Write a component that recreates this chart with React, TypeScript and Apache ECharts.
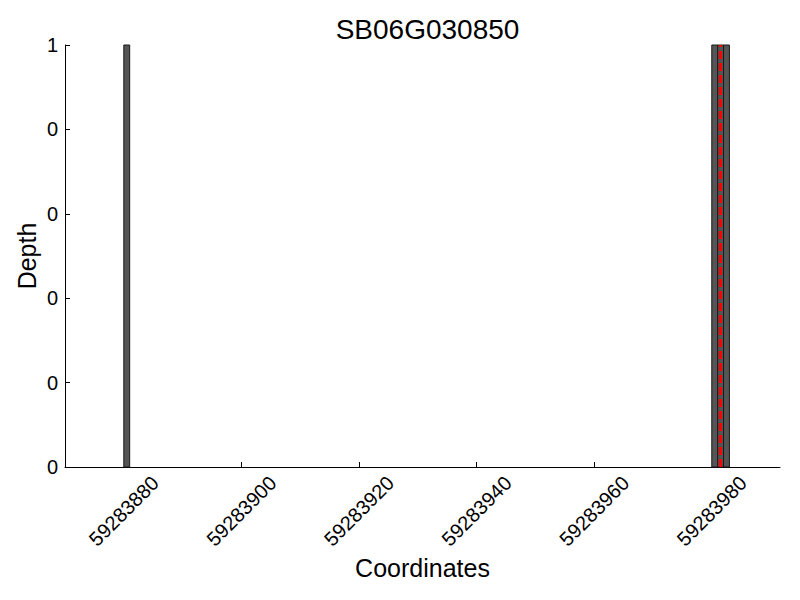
import React, { useEffect, useRef } from "react";
import * as echarts from "echarts";

const title = "SB06G030850";
const barStarts = [59283880, 59283980, 59283981, 59283982];
const barDepths = [1, 1, 1, 1];
const barWidthUnits = 1;
const markerPosition = 59283981.5;
const xTicks = [59283880, 59283900, 59283920, 59283940, 59283960, 59283980];
const xMin = 59283870;
const xMax = 59283991.6;
const yTicks = [0, 0.2, 0.4, 0.6, 0.8, 1];

const FONT = "Liberation Sans";

export default function App() {
  const ref = useRef<HTMLDivElement>(null);
  useEffect(() => {
    if (!ref.current) return;
    const chart = echarts.init(ref.current, null, { renderer: "svg" });
    const data = barStarts.map((s, i) => [s, s + barWidthUnits, barDepths[i]]);
    chart.setOption({
      animation: false,
      backgroundColor: "#ffffff",
      textStyle: { fontFamily: FONT },
      title: {
        text: title,
        left: 422.5,
        top: 10,
        textAlign: "center",
        textStyle: { fontFamily: FONT, fontSize: 28, fontWeight: "normal", color: "#000" },
      },
      grid: { left: 65, right: 20, top: 45, bottom: 133, containLabel: false },
      xAxis: {
        type: "value",
        min: xMin,
        max: xMax,
        name: "Coordinates",
        nameLocation: "middle",
        nameGap: 88,
        nameMoveOverlap: false,
        nameTextStyle: { fontFamily: FONT, fontSize: 25, color: "#000", verticalAlign: "top" },
        axisLine: { show: true, onZero: false, lineStyle: { color: "#000", width: 1 } },
        axisTick: { show: true, inside: true, length: 5, customValues: xTicks, lineStyle: { color: "#000" } },
        axisLabel: {
          show: true,
          customValues: xTicks,
          rotate: 45,
          align: "center",
          verticalAlign: "middle",
          margin: 44,
          fontFamily: FONT,
          fontSize: 20,
          color: "#000",
          formatter: (v: number) => String(Math.round(v)),
        },
        splitLine: { show: false },
      },
      yAxis: {
        type: "value",
        min: yTicks[0],
        max: yTicks[yTicks.length - 1],
        interval: 0.2,
        name: "Depth",
        nameLocation: "middle",
        nameGap: 38,
        nameMoveOverlap: false,
        nameRotate: 90,
        nameTextStyle: { fontFamily: FONT, fontSize: 25, color: "#000", verticalAlign: "middle" },
        axisLine: { show: true, lineStyle: { color: "#000", width: 1 } },
        axisTick: { show: true, inside: true, length: 5, lineStyle: { color: "#000" } },
        axisLabel: {
          show: true,
          margin: 7,
          fontFamily: FONT,
          fontSize: 20,
          color: "#000",
          formatter: (v: number) => String(Math.floor(v + 1e-9)),
        },
        splitLine: { show: false },
      },
      series: [
        {
          type: "custom",
          data,
          encode: { x: [0, 1], y: 2 },
          renderItem: (params: any, api: any) => {
            const p0 = api.coord([api.value(0), 0]);
            const p1 = api.coord([api.value(1), api.value(2)]);
            return {
              type: "rect",
              shape: { x: p0[0], y: p1[1], width: p1[0] - p0[0], height: p0[1] - p1[1] },
              style: { fill: "#555555", stroke: "#1a1a1a", lineWidth: 1 },
            };
          },
          markLine: {
            silent: true,
            symbol: "none",
            label: { show: false },
            lineStyle: { color: "#ff0000", width: 3, type: [8, 4] },
            data: [{ xAxis: markerPosition }],
          },
          z: 2,
        },
      ],
    });
    return () => chart.dispose();
  }, []);
  return (
    <div
      ref={ref}
      style={{ position: "absolute", left: 0, top: 0, width: 800, height: 600 }}
    />
  );
}
